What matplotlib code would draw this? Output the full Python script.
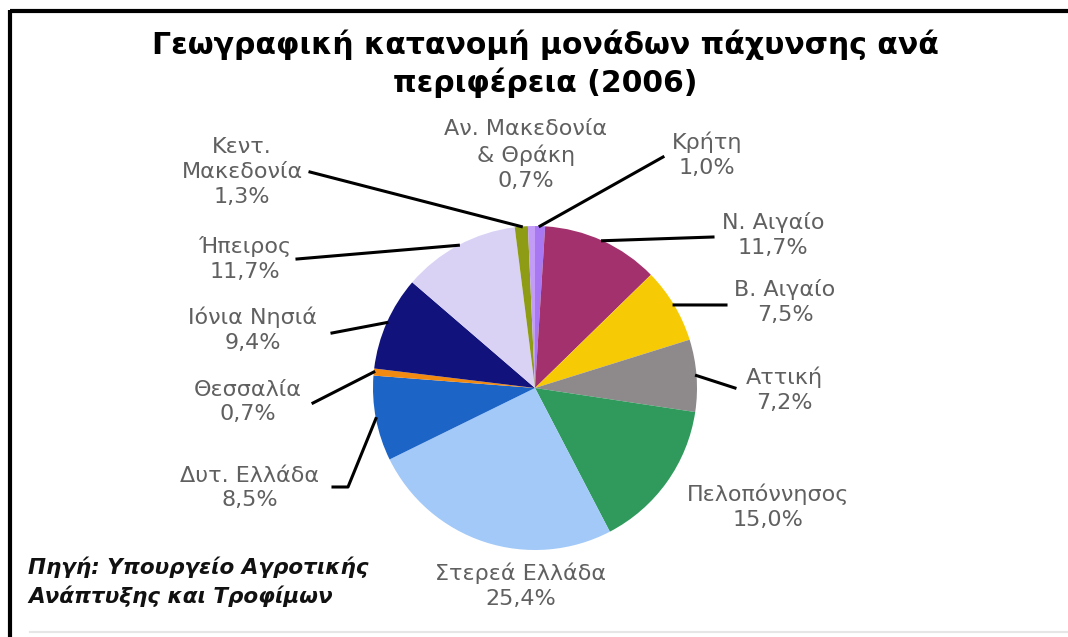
import numpy as np
import matplotlib
matplotlib.use("Agg")
import matplotlib.pyplot as plt
from matplotlib.lines import Line2D

# Regions, shares (%) and slice colours, clockwise from 12 o'clock
regions = ["Κρήτη", "Ν. Αιγαίο", "Β. Αιγαίο", "Αττική", "Πελοπόννησος",
           "Στερεά Ελλάδα", "Δυτ. Ελλάδα", "Θεσσαλία", "Ιόνια Νησιά",
           "Ήπειρος", "Κεντ.\nΜακεδονία", "Αν. Μακεδονία\n& Θράκη"]
shares = [1.0, 11.7, 7.5, 7.2, 15.0, 25.4, 8.5, 0.7, 9.4, 11.7, 1.3, 0.7]
colors = ["#a878f2", "#a3316e", "#f6cb06", "#8e8a8c", "#2f9a5c",
          "#a2c9f7", "#1c64c6", "#f28a12", "#12127c", "#d9d2f5",
          "#8d9c14", "#c29cf6"]

title = "Γεωγραφική κατανομή μονάδων πάχυνσης ανά\nπεριφέρεια (2006)"
source = "Πηγή: Υπουργείο Αγροτικής\nΑνάπτυξης και Τροφίμων"

# Label anchor (text centre) in pixel layout space
label_pos = {
    "Κρήτη": (707, 155), "Ν. Αιγαίο": (773, 235), "Β. Αιγαίο": (785, 302),
    "Αττική": (784, 390), "Πελοπόννησος": (768, 507),
    "Στερεά Ελλάδα": (521, 586), "Δυτ. Ελλάδα": (250, 488),
    "Θεσσαλία": (248, 402), "Ιόνια Νησιά": (253, 330), "Ήπειρος": (245, 259),
    "Κεντ.\nΜακεδονία": (242, 172), "Αν. Μακεδονία\n& Θράκη": (526, 155),
}
# Leader-line points from the slice edge out to the label
leader_end = {
    "Κρήτη": [(663, 157)], "Ν. Αιγαίο": [(713, 237)], "Β. Αιγαίο": [(726, 305)],
    "Αττική": [(735, 388)], "Δυτ. Ελλάδα": [(348, 487), (333, 487)],
    "Θεσσαλία": [(313, 403)], "Ιόνια Νησιά": [(332, 333)],
    "Ήπειρος": [(297, 259)], "Κεντ.\nΜακεδονία": [(310, 172)],
}

W, H = 1068, 637
fig = plt.figure(figsize=(W / 100, H / 100), dpi=100)
ax = fig.add_axes([0, 0, 1, 1])

cx, cy, r = 535, 388, 162
wedges, _ = ax.pie(shares, colors=colors, startangle=-90, counterclock=True,
                   center=(cx, cy), radius=r, frame=True,
                   wedgeprops=dict(linewidth=0))
ax.set_xlim(0, W)
ax.set_ylim(H, 0)
ax.set_aspect("equal")
ax.axis("off")

for name, w, val in zip(regions, wedges, shares):
    x, y = label_pos[name]
    txt = f"{name}\n" + f"{val:.1f}".replace(".", ",") + "%"
    ax.text(x, y, txt, ha="center", va="center", fontsize=16,
            color="#606060", linespacing=1.3, family="DejaVu Sans")
    if name in leader_end:
        th = np.deg2rad((w.theta1 + w.theta2) / 2)
        pts = [(cx + r * np.cos(th), cy + r * np.sin(th))] + leader_end[name]
        xs, ys = zip(*pts)
        ax.add_line(Line2D(xs, ys, color="black", lw=2.2))

ax.text(545, 64, title, ha="center", va="center", fontsize=21.5,
        fontweight="bold", color="black", linespacing=1.3,
        family="DejaVu Sans")
ax.text(28, 582, source, ha="left", va="center", fontsize=15.5,
        fontweight="bold", fontstyle="italic", color="#111111",
        linespacing=1.45)

# Frame: heavy top and left rules
ax.add_line(Line2D([10, W], [11, 11], color="black", lw=3,
                   solid_capstyle="butt"))
ax.add_line(Line2D([10, 10], [10, H], color="black", lw=3,
                   solid_capstyle="butt"))
ax.add_line(Line2D([30, W], [632, 632], color="#e6e6e6", lw=1.5))

fig.savefig("out.png", dpi=100)
